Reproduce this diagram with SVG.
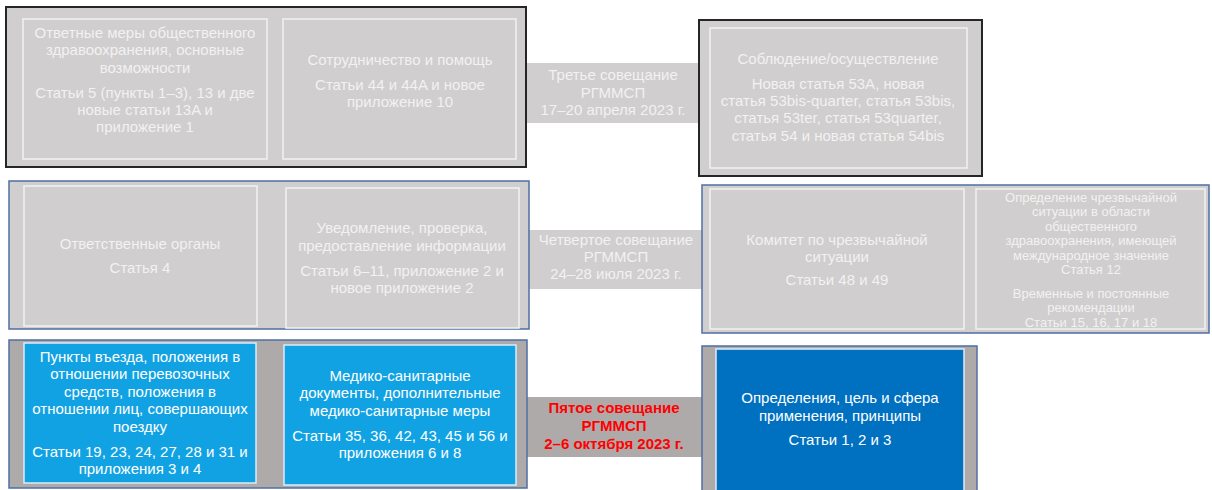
<svg xmlns="http://www.w3.org/2000/svg" width="1212" height="490" viewBox="0 0 1212 490">
<style>
text{font-family:"Liberation Sans",Arial,sans-serif;font-size:15px;text-anchor:middle}
.sm{font-size:13px}
.lt{fill:#f2f2f2}
.wt{fill:#ffffff}
.red{fill:#ff0000;font-weight:bold}
.g{fill:#d0cece}
.dk{fill:#d0cece;stroke:#262626;stroke-width:2}
.bl{fill:#d0cece;stroke:#4f6fa3;stroke-width:1.5}
.bl3{fill:#aeaaaa;stroke:#4f6fa3;stroke-width:1.5}
.in{fill:#d0cece;stroke:#f2f2f2;stroke-width:1.5}
.cy{fill:#11a2e3;stroke:#deebf7;stroke-width:1.5}
.db{fill:#0070c0;stroke:#deebf7;stroke-width:1.5}
</style>
<rect width="1212" height="490" fill="#ffffff"/>
<g id="connectors">
<g id="c1"><rect x="520" y="63" width="186" height="60" class="g"/>
<text class="lt" x="613" y="80">Третье совещание</text>
<text class="lt" x="613" y="98">РГММСП</text>
<text class="lt" x="613" y="115">17–20 апреля 2023 г.</text></g>
<g id="c2"><rect x="522" y="230" width="186" height="59" class="g"/>
<text class="lt" x="616" y="245">Четвертое совещание</text>
<text class="lt" x="616" y="262">РГММСП</text>
<text class="lt" x="616" y="279">24–28 июля 2023 г.</text></g>
<g id="c3"><rect x="520" y="397" width="188" height="60" fill="#aeaaaa"/>
<text class="red" x="614" y="413">Пятое совещание</text>
<text class="red" x="614" y="431">РГММСП</text>
<text class="red" x="614" y="449">2–6 октября 2023 г.</text></g>
</g>
<g id="row1-left">
<rect x="6" y="7" width="520" height="160" class="dk"/>
<g id="n1"><rect x="23" y="19" width="244" height="140" class="in"/>
<text class="lt" x="145" y="38">Ответные меры общественного</text>
<text class="lt" x="145" y="55">здравоохранения, основные</text>
<text class="lt" x="145" y="73">возможности</text>
<text class="lt" x="145" y="98">Статьи 5 (пункты 1–3), 13 и две</text>
<text class="lt" x="145" y="115">новые статьи 13A и</text>
<text class="lt" x="145" y="132">приложение 1</text></g>
<g id="n2"><rect x="283" y="19" width="233" height="140" class="in"/>
<text class="lt" x="400" y="65">Сотрудничество и помощь</text>
<text class="lt" x="400" y="90">Статьи 44 и 44A и новое</text>
<text class="lt" x="400" y="107">приложение 10</text></g>
</g>
<g id="row1-right">
<rect x="699" y="20" width="283" height="156" class="dk"/>
<g id="n3"><rect x="710" y="28" width="257" height="140" class="in"/>
<text class="lt" x="838" y="64">Соблюдение/осуществление</text>
<text class="lt" x="838" y="89">Новая статья 53A, новая</text>
<text class="lt" x="838" y="106">статья 53bis-quarter, статья 53bis,</text>
<text class="lt" x="838" y="123">статья 53ter, статья 53quarter,</text>
<text class="lt" x="838" y="141">статья 54 и новая статья 54bis</text></g>
</g>
<g id="row2-left">
<rect x="9" y="181" width="520" height="148" class="bl"/>
<g id="n4"><rect x="24" y="186" width="233" height="140" class="in"/>
<text class="lt" x="140" y="249">Ответственные органы</text>
<text class="lt" x="140" y="273">Статья 4</text></g>
<g id="n5"><rect x="286" y="188" width="233" height="140" class="in"/>
<text class="lt" x="402" y="233">Уведомление, проверка,</text>
<text class="lt" x="402" y="251">предоставление информации</text>
<text class="lt" x="402" y="276">Статьи 6–11, приложение 2 и</text>
<text class="lt" x="402" y="293">новое приложение 2</text></g>
</g>
<g id="row2-right">
<rect x="702" y="185" width="507" height="148" class="bl"/>
<g id="n6"><rect x="710" y="189" width="254" height="140" class="in"/>
<text class="lt" x="837" y="245">Комитет по чрезвычайной</text>
<text class="lt" x="837" y="262">ситуации</text>
<text class="lt" x="837" y="285">Статьи 48 и 49</text></g>
<g id="n7"><rect x="976" y="189" width="229" height="140" class="in"/>
<text class="lt sm" x="1091" y="201.5">Определение чрезвычайной</text>
<text class="lt sm" x="1091" y="216">ситуации в области</text>
<text class="lt sm" x="1091" y="230.5">общественного</text>
<text class="lt sm" x="1091" y="245">здравоохранения, имеющей</text>
<text class="lt sm" x="1091" y="259.5">международное значение</text>
<text class="lt sm" x="1091" y="274">Статья 12</text>
<text class="lt sm" x="1091" y="297.5">Временные и постоянные</text>
<text class="lt sm" x="1091" y="312">рекомендации</text>
<text class="lt sm" x="1091" y="326.5">Статьи 15, 16, 17 и 18</text></g>
</g>
<g id="row3-left">
<rect x="9" y="340" width="518" height="148" class="bl3"/>
<g id="n8"><rect x="24" y="343" width="232" height="140" class="cy"/>
<text class="wt" x="140" y="362">Пункты въезда, положения в</text>
<text class="wt" x="140" y="379">отношении перевозочных</text>
<text class="wt" x="140" y="397">средств, положения в</text>
<text class="wt" x="140" y="414">отношении лиц, совершающих</text>
<text class="wt" x="140" y="432">поездку</text>
<text class="wt" x="140" y="457">Статьи 19, 23, 24, 27, 28 и 31 и</text>
<text class="wt" x="140" y="474">приложения 3 и 4</text></g>
<g id="n9"><rect x="284" y="345" width="232" height="140" class="cy"/>
<text class="wt" x="400" y="381">Медико-санитарные</text>
<text class="wt" x="400" y="398">документы, дополнительные</text>
<text class="wt" x="400" y="416">медико-санитарные меры</text>
<text class="wt" x="400" y="441">Статьи 35, 36, 42, 43, 45 и 56 и</text>
<text class="wt" x="400" y="458">приложения 6 и 8</text></g>
</g>
<g id="row3-right">
<rect x="702" y="346" width="275" height="150" class="bl3"/>
<g id="n10"><rect x="716" y="349" width="248" height="145" class="db"/>
<text class="wt" x="840" y="403">Определения, цель и сфера</text>
<text class="wt" x="840" y="421">применения, принципы</text>
<text class="wt" x="840" y="445">Статьи 1, 2 и 3</text></g>
</g>
</svg>
